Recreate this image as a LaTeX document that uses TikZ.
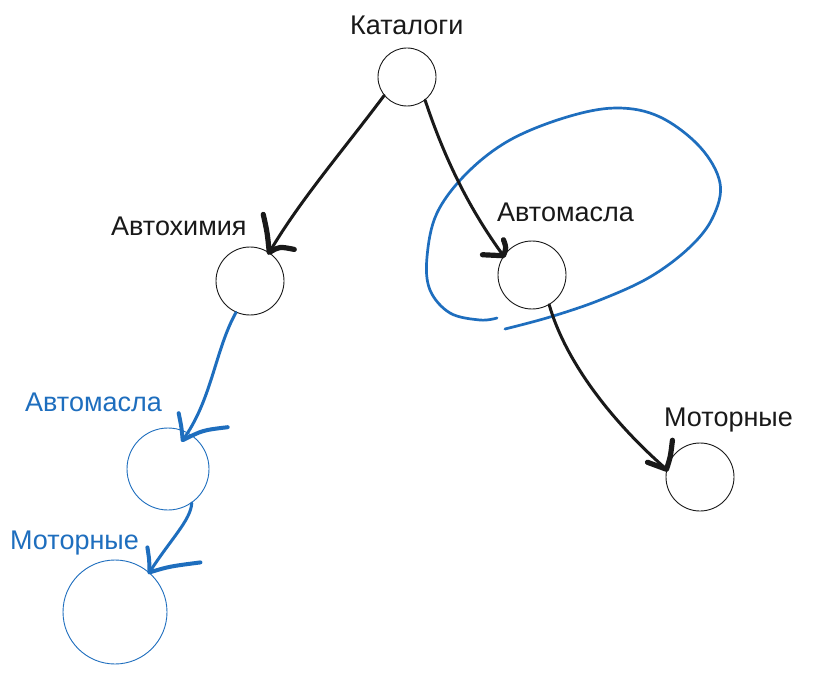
\documentclass[tikz,border=0pt]{standalone}
\usepackage{fontspec}
\setmainfont{Liberation Sans}
\usetikzlibrary{calc}
\definecolor{bl}{RGB}{30,110,190}
\definecolor{ink}{RGB}{25,25,25}
\begin{document}
\begin{tikzpicture}[x=1pt,y=-1pt,
  circ/.style={circle,draw=ink,line width=0.9pt,inner sep=0pt},
  bcirc/.style={circle,draw=bl,line width=0.9pt,inner sep=0pt},
  lbl/.style={font=\fontsize{27}{31}\selectfont,text=ink,anchor=base west,inner sep=0pt},
  blbl/.style={lbl,text=bl},
  shaft/.style={draw=ink,line width=3pt,line cap=round},
  head/.style={draw=ink,line width=5.2pt,line cap=round,line join=round},
  bshaft/.style={draw=bl,line width=3pt,line cap=round},
  bhead/.style={draw=bl,line width=4pt,line cap=round,line join=round}]
\useasboundingbox[fill=white] (0,0) rectangle (820,674);

% nodes
\node[circ,minimum size=58pt] (kat) at (407,77) {};
\node[lbl] (katl) at (350,35) {Каталоги};
\node[circ,minimum size=68pt] (avh) at (250,281) {};
\node[lbl] (avhl) at (111,236) {Автохимия};
\node[circ,minimum size=68pt] (am) at (532,275) {};
\node[lbl] (aml) at (497,222) {Автомасла};
\node[circ,minimum size=68pt] (mr) at (700,477) {};
\node[lbl] (mrl) at (664,426) {Моторные};
\node[bcirc,minimum size=82pt] (bam) at (168,469) {};
\node[blbl] (baml) at (25,411) {Автомасла};
\node[bcirc,minimum size=104pt] (bmr) at (115,612) {};
\node[blbl] (bmrl) at (10,549) {Моторные};

\coordinate (t1) at ($(bam.center)!0.78!(bam.63)$);

% blue loop around right Автомасла
\draw[draw=bl,line width=2.7pt,line cap=round] plot[smooth,tension=0.6] coordinates {
  (497,318) (480,320) (450,313) (430,290) (427,257) (437,213) (467,173)
  (510,140) (567,117) (617,108) (660,117) (700,147) (720,183) (713,217)
  (690,247) (650,277) (600,300) (550,317) (505,329)};

% black arrows
\draw[shaft] (kat.219) .. controls (345,148) and (300,200) .. (avh.56);
\draw[head] ($(avh.56)+(-6,-38)$) .. controls ($(avh.56)+(-2,-20)$) .. (avh.56)
  .. controls ($(avh.56)+(10,-6)$) .. ($(avh.56)+(25,-3)$);

\draw[shaft] (kat.308) .. controls (445,160) and (470,210) .. (am.146);
\draw[head] ($(am.146)+(0,-16)$) .. controls ($(am.146)+(3,-8)$) .. (am.146)
  -- ($(am.146)+(-21,-1)$);

\draw[shaft] (am.300) .. controls (565,360) and (610,420) .. (mr.167);
\draw[head] ($(mr.167)+(6,-29)$) .. controls ($(mr.167)+(4,-12)$) .. (mr.167)
  -- ($(mr.167)+(-19,-7)$);

% blue arrows
\draw[bshaft] (avh.246) .. controls (215,350) and (212,400) .. (t1);
\draw[bhead] ($(t1)+(-4,-27)$) .. controls ($(t1)+(-1,-12)$) .. (t1)
  .. controls ($(t1)+(20,-10)$) .. ($(t1)+(45,-13)$);

\draw[bshaft] (bam.305) .. controls (191,520) and (170,540) .. (bmr.49);
\draw[bhead] ($(bmr.49)+(-2,-25)$) .. controls ($(bmr.49)+(0,-12)$) .. (bmr.49)
  .. controls ($(bmr.49)+(20,-6)$) .. ($(bmr.49)+(51,-10)$);
\end{tikzpicture}
\end{document}
